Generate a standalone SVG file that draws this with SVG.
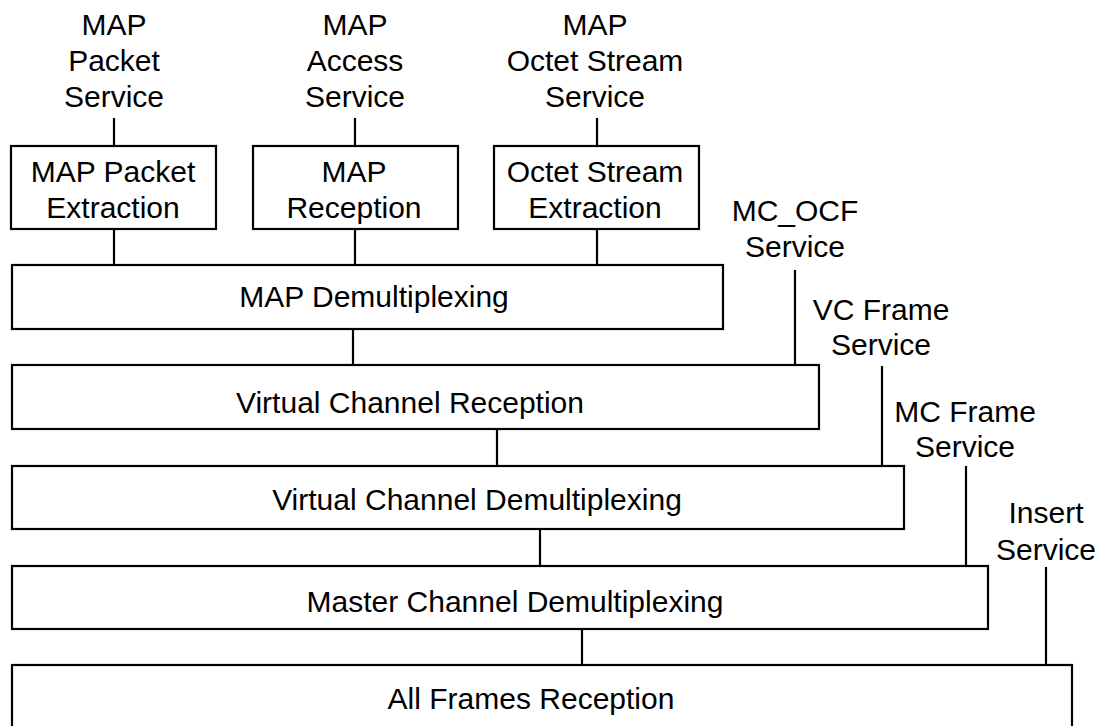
<svg xmlns="http://www.w3.org/2000/svg" width="1101" height="726" viewBox="0 0 1101 726">
<style>
.box{fill:#fff;stroke:#000;stroke-width:2.2}
.ln{stroke:#000;stroke-width:2.2;fill:none}
text{font-family:"Liberation Sans",Arial,sans-serif;font-size:30px;fill:#000;text-anchor:middle}
</style>
<rect width="1101" height="726" fill="#fff"/>
<g id="connectors">
<line class="ln" x1="114" y1="118" x2="114" y2="146"/>
<line class="ln" x1="355" y1="118" x2="355" y2="146"/>
<line class="ln" x1="597" y1="118" x2="597" y2="146"/>
<line class="ln" x1="114" y1="229" x2="114" y2="265"/>
<line class="ln" x1="355" y1="229" x2="355" y2="265"/>
<line class="ln" x1="597" y1="229" x2="597" y2="265"/>
<line class="ln" x1="353" y1="329" x2="353" y2="365"/>
<line class="ln" x1="795" y1="270" x2="795" y2="365"/>
<line class="ln" x1="497" y1="429" x2="497" y2="466"/>
<line class="ln" x1="882" y1="366" x2="882" y2="466"/>
<line class="ln" x1="540" y1="529" x2="540" y2="566"/>
<line class="ln" x1="966" y1="466" x2="966" y2="566"/>
<line class="ln" x1="582" y1="629" x2="582" y2="665"/>
<line class="ln" x1="1046" y1="567" x2="1046" y2="665"/>
</g>
<g id="svc-map-packet"><text x="114" y="35">MAP</text><text x="114" y="71">Packet</text><text x="114" y="107">Service</text></g>
<g id="svc-map-access"><text x="355" y="35">MAP</text><text x="355" y="71">Access</text><text x="355" y="107">Service</text></g>
<g id="svc-map-octet"><text x="595" y="35">MAP</text><text x="595" y="71">Octet Stream</text><text x="595" y="107">Service</text></g>
<g id="svc-mc-ocf"><text x="795" y="221">MC_OCF</text><text x="795" y="257">Service</text></g>
<g id="svc-vc-frame"><text x="881" y="320">VC Frame</text><text x="881" y="355">Service</text></g>
<g id="svc-mc-frame"><text x="965" y="422">MC Frame</text><text x="965" y="457">Service</text></g>
<g id="svc-insert"><text x="1046" y="523">Insert</text><text x="1046" y="560">Service</text></g>
<g id="map-packet-extraction"><rect class="box" x="11" y="146" width="205" height="83"/><text x="113" y="182">MAP Packet</text><text x="113" y="218">Extraction</text></g>
<g id="map-reception"><rect class="box" x="253" y="146" width="205" height="83"/><text x="354" y="182">MAP</text><text x="354" y="218">Reception</text></g>
<g id="octet-stream-extraction"><rect class="box" x="494" y="146" width="205" height="83"/><text x="595" y="182">Octet Stream</text><text x="595" y="218">Extraction</text></g>
<g id="map-demux"><rect class="box" x="12" y="265" width="711" height="64"/><text x="374" y="307">MAP Demultiplexing</text></g>
<g id="vc-reception"><rect class="box" x="12" y="365" width="807" height="64"/><text x="410" y="413">Virtual Channel Reception</text></g>
<g id="vc-demux"><rect class="box" x="12" y="466" width="892" height="63"/><text x="477" y="510">Virtual Channel Demultiplexing</text></g>
<g id="mc-demux"><rect class="box" x="12" y="566" width="976" height="63"/><text x="515" y="612">Master Channel Demultiplexing</text></g>
<g id="all-frames"><rect class="box" x="12" y="665" width="1060" height="70"/><text x="531" y="709">All Frames Reception</text></g>
</svg>
